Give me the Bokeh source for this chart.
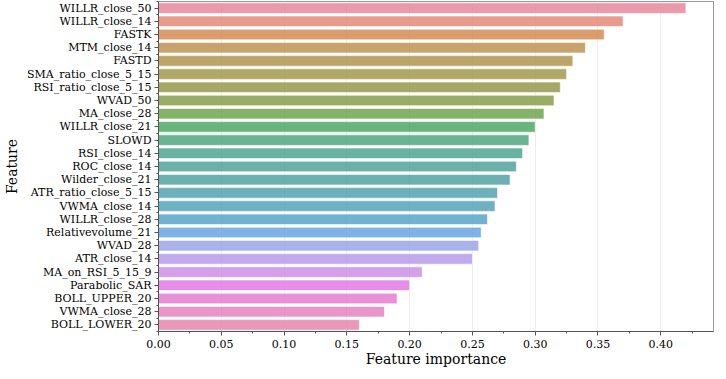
import math
import colorsys
from bokeh.plotting import figure
from bokeh.models import ColumnDataSource, Range1d, FixedTicker, PrintfTickFormatter
from bokeh.embed import file_html
from bokeh.resources import INLINE

features = ["WILLR_close_50", "WILLR_close_14", "FASTK", "MTM_close_14", "FASTD",
            "SMA_ratio_close_5_15", "RSI_ratio_close_5_15", "WVAD_50", "MA_close_28",
            "WILLR_close_21", "SLOWD", "RSI_close_14", "ROC_close_14", "Wilder_close_21",
            "ATR_ratio_close_5_15", "VWMA_close_14", "WILLR_close_28", "Relativevolume_21",
            "WVAD_28", "ATR_close_14", "MA_on_RSI_5_15_9", "Parabolic_SAR",
            "BOLL_UPPER_20", "VWMA_close_28", "BOLL_LOWER_20"]
importance = [0.42, 0.37, 0.355, 0.34, 0.33, 0.325, 0.32, 0.315, 0.307, 0.30,
              0.295, 0.29, 0.285, 0.28, 0.27, 0.268, 0.262, 0.257, 0.255, 0.25,
              0.21, 0.20, 0.19, 0.18, 0.16]
x_ticks = [0.00, 0.05, 0.10, 0.15, 0.20, 0.25, 0.30, 0.35, 0.40]

# --- seaborn-like husl palette ---
M = [[3.2406, -1.5372, -0.4986], [-0.9689, 1.8758, 0.0415], [0.0557, -0.2040, 1.0570]]
refU, refV = 0.19784, 0.46834

def max_chroma(L, H):
    hrad = math.radians(H)
    sinH, cosH = math.sin(hrad), math.cos(hrad)
    sub1 = (L + 16) ** 3 / 1560896.0
    sub2 = sub1 if sub1 > 0.008856 else L / 903.3
    result = float("inf")
    for m1, m2, m3 in M:
        top = (0.99915 * m1 + 1.05122 * m2 + 1.14460 * m3) * sub2
        rb = 0.86330 * m3 - 0.17266 * m2
        lb = 0.12949 * m3 - 0.38848 * m1
        bottom = (rb * sinH + lb * cosH) * sub2
        for t in (0.0, 1.0):
            C = L * (top - 1.05122 * t) / (bottom + 0.17266 * sinH * t)
            if 0.0 < C < result:
                result = C
    return result

def husl_to_rgb(h, s, l):
    C = max_chroma(l, h) / 100.0 * s
    U, V = C * math.cos(math.radians(h)), C * math.sin(math.radians(h))
    t = (l + 16) / 116.0
    varY = t ** 3 if t ** 3 > 0.008856 else (116 * t - 16) / 903.3
    varU = U / (13 * l) + refU
    varV = V / (13 * l) + refV
    Y = varY
    X = 0 - (9 * Y * varU) / ((varU - 4) * varV - varU * varV)
    Z = (9 * Y - 15 * varV * Y - varV * X) / (3 * varV)
    out = []
    for row in M:
        c = row[0] * X + row[1] * Y + row[2] * Z
        c = 12.92 * c if c <= 0.0031308 else 1.055 * c ** (1 / 2.4) - 0.055
        out.append(min(max(c, 0.0), 1.0))
    return out

n = len(features)
colors = []
for i in range(n):
    h = ((i / n) + 0.01) % 1 * 359
    r, g, b = husl_to_rgb(h, 0.9 * 99, 0.65 * 99)
    hh, ll, ss = colorsys.rgb_to_hls(r, g, b)
    r, g, b = colorsys.hls_to_rgb(hh, ll, ss * 0.75)
    colors.append("#%02x%02x%02x" % (round(r * 255), round(g * 255), round(b * 255)))

src = ColumnDataSource(dict(y=list(range(n)), v=importance, c=colors))

p = figure(width=714, height=371, output_backend="svg", toolbar_location=None,
           x_range=Range1d(0, 0.442), y_range=Range1d(n - 0.5, -0.5),
           min_border_left=147, min_border_right=1, min_border_top=1, min_border_bottom=40)
p.hbar(y="y", right="v", left=0, height=0.8, source=src, fill_color="c",
       fill_alpha=0.8, line_color="white", line_alpha=0.6, line_width=1)

font = "DejaVu Serif"
p.xaxis.ticker = FixedTicker(ticks=x_ticks,
                             minor_ticks=[x_ticks[0] + 0.025 * k for k in range(18)])
p.xaxis.formatter = PrintfTickFormatter(format="%.2f")
p.yaxis.ticker = FixedTicker(ticks=list(range(n)), minor_ticks=[k - 0.5 for k in range(n + 1)])
p.yaxis.major_label_overrides = {i: f for i, f in enumerate(features)}

p.xaxis.axis_label = "Feature importance"
p.yaxis.axis_label = "Feature"
for ax in (p.xaxis, p.yaxis):
    ax.axis_label_text_font = font
    ax.axis_label_text_font_size = "14px"
    ax.axis_label_text_font_style = "normal"
    ax.axis_label_text_color = "black"
    ax.major_label_text_font = font
    ax.major_label_text_font_size = "11px"
    ax.major_label_text_color = "black"
    ax.axis_line_color = "#555555"
    ax.major_tick_line_color = "#555555"
    ax.minor_tick_line_color = "#555555"
    ax.major_tick_out = 4
    ax.major_tick_in = 0
    ax.minor_tick_out = 2
    ax.minor_tick_in = 0
p.xaxis.axis_label_standoff = 0
p.yaxis.axis_label_standoff = 4
p.xaxis.major_label_standoff = 4
p.yaxis.major_label_standoff = 3

p.xgrid.grid_line_color = "#e8e8e8"
p.xgrid.grid_line_alpha = 0.8
p.ygrid.grid_line_color = None
p.outline_line_color = "#999999"
p.outline_line_width = 1

open("out.html", "w").write(file_html(p, INLINE))
